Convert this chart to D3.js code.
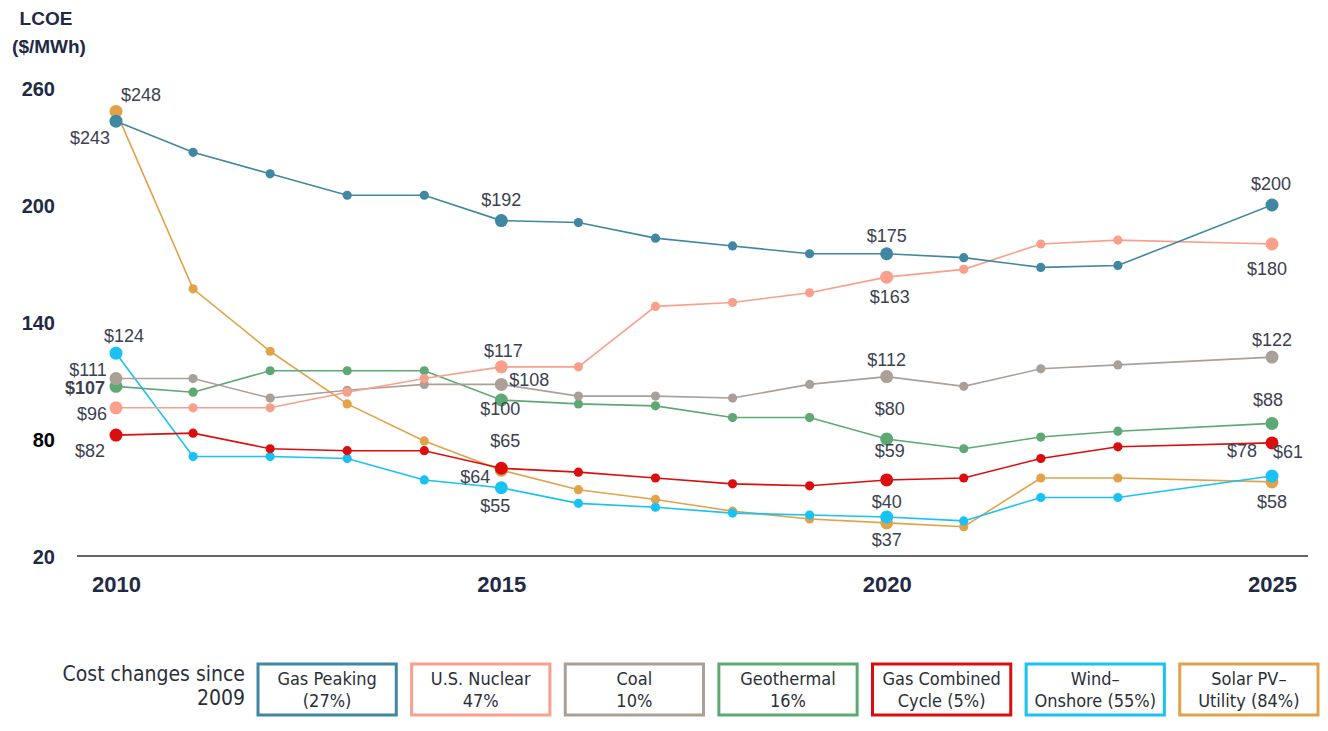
<!DOCTYPE html>
<html>
<head>
<meta charset="utf-8">
<script src="https://cdn.jsdelivr.net/npm/d3@7"></script>
<style>
  body { margin: 0; background: #fff; }
  svg { display: block; }
  .lbl { font-family: "Liberation Sans", Arial, sans-serif; font-size: 18px; fill: #3c4150; }
  .tick-y { font-family: "Liberation Sans", Arial, sans-serif; font-weight: bold; font-size: 20px; fill: #1f2a44; }
  .tick-x { font-family: "Liberation Sans", Arial, sans-serif; font-weight: bold; font-size: 22px; fill: #1f2a44; }
  .leg { font-family: "Liberation Sans Narrow", "DejaVu Sans Condensed", sans-serif; font-size: 18px; fill: #2b2f38; }
</style>
</head>
<body>
<script>
var years = [2010, 2011, 2012, 2013, 2014, 2015, 2016, 2017, 2018, 2019, 2020, 2021, 2022, 2023, 2025];
var labelYears = [2010, 2015, 2020, 2025];
var yTicks = [20, 80, 140, 200, 260];
var xTicks = [2010, 2015, 2020, 2025];

var gasPeaking = [243, 227, 216, 205, 205, 192, 191, 183, 179, 175, 175, 173, 168, 169, 200];
var nuclear    = [96, 96, 96, 104, 111, 117, 117, 148, 150, 155, 163, 167, 180, 182, 180];
var coal       = [111, 111, 101, 105, 108, 108, 102, 102, 101, 108, 112, 107, 116, 118, 122];
var geothermal = [107, 104, 115, 115, 115, 100, 98, 97, 91, 91, 80, 75, 81, 84, 88];
var gasCC      = [82, 83, 75, 74, 74, 65, 63, 60, 57, 56, 59, 60, 70, 76, 78];
var wind       = [124, 71, 71, 70, 59, 55, 47, 45, 42, 41, 40, 38, 50, 50, 61];
var solar      = [248, 157, 125, 98, 79, 64, 54, 49, 43, 39, 37, 35, 60, 60, 58];

var seriesNames = ["Gas Peaking", "U.S. Nuclear", "Coal", "Geothermal", "Gas Combined Cycle", "Wind–Onshore", "Solar PV–Utility"];
var legendLine1 = ["Gas Peaking", "U.S. Nuclear", "Coal", "Geothermal", "Gas Combined", "Wind–", "Solar PV–"];
var legendLine2 = ["(27%)", "47%", "10%", "16%", "Cycle (5%)", "Onshore (55%)", "Utility (84%)"];
var colors = ["#3f87a2", "#f8a08b", "#aaa098", "#5ea873", "#dc0d0d", "#18c2f2", "#e2a24a"];
var values = [gasPeaking, nuclear, coal, geothermal, gasCC, wind, solar];

// label placement offsets (series index, year, dx, dy)
var labelOffsets = [
  [0, 2010, -26, 17], [6, 2010, 25, -17], [5, 2010, 8, -18], [2, 2010, -28, -9],
  [3, 2010, -31, 1], [1, 2010, -24, 6], [4, 2010, -26, 16],
  [0, 2015, 0, -21], [1, 2015, 2, -16], [2, 2015, 28, -5], [3, 2015, -1, 9],
  [4, 2015, 4, -28], [6, 2015, -26, 6], [5, 2015, -6, 18],
  [0, 2020, 0, -18], [1, 2020, 3, 20], [2, 2020, 0, -17], [3, 2020, 3, -30],
  [4, 2020, 3, -29], [5, 2020, 0, -15], [6, 2020, 0, 17],
  [0, 2025, -1, -21], [1, 2025, -5, 25], [2, 2025, 0, -17], [3, 2025, -4, -24],
  [4, 2025, -30, 8], [5, 2025, 16, -24], [6, 2025, 0, 20]
];
var bold107 = [3, 2010];

var W = 1328, H = 731;
var svg = d3.select("body").append("svg").attr("width", W).attr("height", H);

var x = d3.scaleLinear().domain([2010, 2025]).range([116, 1272]);
var y = d3.scaleLinear().domain([20, 260]).range([556, 88]);

// title of y axis
svg.append("text").attr("class", "tick-y").attr("x", 46).attr("y", 25)
  .attr("text-anchor", "middle").style("font-size", "19px").text("LCOE");
svg.append("text").attr("class", "tick-y").attr("x", 49).attr("y", 53)
  .attr("text-anchor", "middle").style("font-size", "19px").text("($/MWh)");

// y tick labels
var yAxis = svg.append("g").attr("transform", "translate(55,0)")
  .call(d3.axisLeft(y).tickValues(yTicks).tickSize(0).tickPadding(0));
yAxis.select(".domain").remove();
yAxis.selectAll("text").attr("class", "tick-y").attr("font-family", null).attr("font-size", null)
  .attr("fill", null).attr("dy", "0.35em")
  .style("fill", function(d) { return d === 80 ? "#000" : null; });

// x axis
var xAxis = svg.append("g").attr("transform", "translate(0," + y(20) + ")")
  .call(d3.axisBottom(x).tickValues(xTicks).tickFormat(d3.format("d")).tickSize(0).tickPadding(20));
xAxis.select(".domain").attr("d", "M77,0H1308").attr("stroke", "#2c3145").attr("stroke-width", 1.6);
xAxis.selectAll("text").attr("class", "tick-x").attr("font-family", null).attr("font-size", null)
  .attr("fill", null).attr("dy", "0.71em");

var line = d3.line().x(function(d) { return x(d[0]); }).y(function(d) { return y(d[1]); });

var order = [6, 5, 4, 3, 2, 1, 0];
order.forEach(function(si) {
  var pts = years.map(function(yr, i) { return [yr, values[si][i]]; });
  var g = svg.append("g");
  g.append("path").attr("d", line(pts)).attr("fill", "none")
    .attr("stroke", colors[si]).attr("stroke-width", 1.6);
  g.selectAll("circle").data(pts).enter().append("circle")
    .attr("cx", function(d) { return x(d[0]); })
    .attr("cy", function(d) { return y(d[1]); })
    .attr("r", function(d) { return labelYears.indexOf(d[0]) >= 0 ? 6.5 : 4.6; })
    .attr("fill", colors[si]);
});

// data labels
svg.append("g").selectAll("text").data(labelOffsets).enter().append("text")
  .attr("class", "lbl")
  .attr("x", function(d) { return x(d[1]) + d[2]; })
  .attr("y", function(d) { return y(values[d[0]][years.indexOf(d[1])]) + d[3]; })
  .attr("dy", "0.35em")
  .attr("text-anchor", "middle")
  .style("font-weight", function(d) { return d[0] === bold107[0] && d[1] === bold107[1] ? "bold" : null; })
  .text(function(d) { return "$" + values[d[0]][years.indexOf(d[1])]; });

// legend
var leg = svg.append("g");
leg.append("text").attr("class", "leg").attr("x", 245).attr("y", 681)
  .attr("text-anchor", "end").style("font-size", "21px").text("Cost changes since");
leg.append("text").attr("class", "leg").attr("x", 245).attr("y", 705)
  .attr("text-anchor", "end").style("font-size", "21px").text("2009");

var legX = d3.scaleBand().domain(seriesNames).range([258, 1318]).paddingInner(0.1).paddingOuter(0);
var items = leg.selectAll("g.item").data(seriesNames).enter().append("g")
  .attr("transform", function(d) { return "translate(" + legX(d) + ",664)"; });
items.append("rect").attr("width", legX.bandwidth()).attr("height", 51)
  .attr("fill", "#fff").attr("stroke-width", 3)
  .attr("stroke", function(d, i) { return colors[i]; });
items.append("text").attr("class", "leg").attr("x", legX.bandwidth() / 2).attr("y", 21)
  .attr("text-anchor", "middle").text(function(d, i) { return legendLine1[i]; });
items.append("text").attr("class", "leg").attr("x", legX.bandwidth() / 2).attr("y", 43)
  .attr("text-anchor", "middle").text(function(d, i) { return legendLine2[i]; });
</script>
</body>
</html>
